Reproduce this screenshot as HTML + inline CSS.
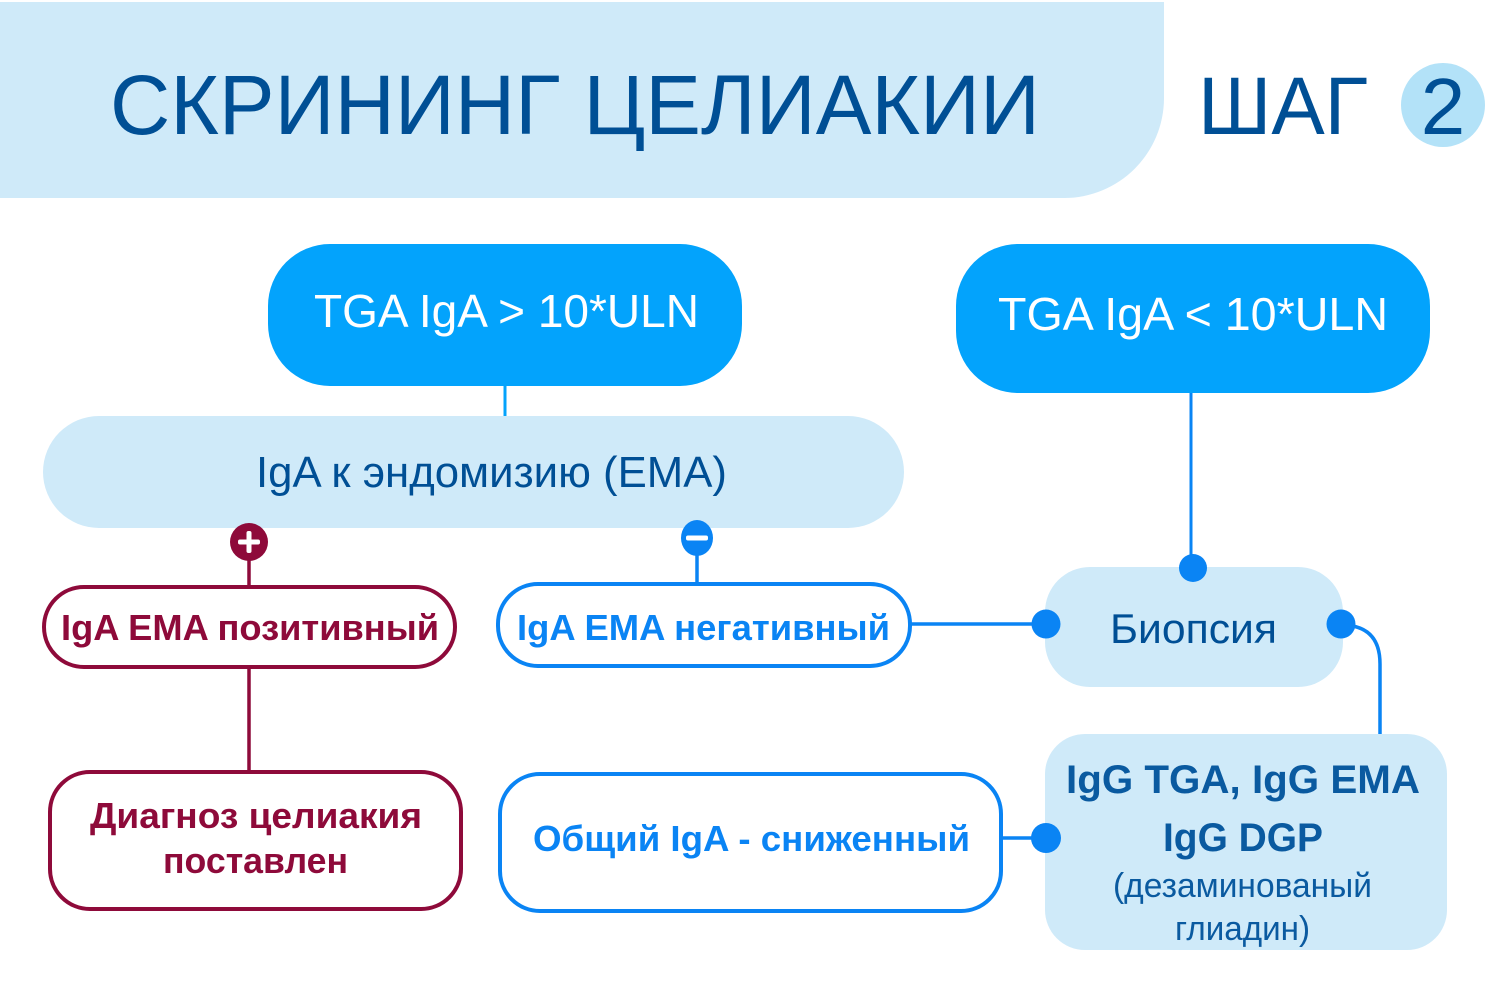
<!DOCTYPE html>
<html><head><meta charset="utf-8"><style>
html,body{margin:0;padding:0;background:#fff;}
svg{display:block;}
text{font-family:"Liberation Sans","DejaVu Sans",sans-serif;}
</style></head><body>
<svg width="1500" height="991" viewBox="0 0 1500 991" xmlns="http://www.w3.org/2000/svg">
<!-- header band -->
<path d="M0 2 H1164 V98 A100 100 0 0 1 1064 198 H0 Z" fill="#cfeaf9"/>
<text x="110" y="134" font-size="84" fill="#004f95" textLength="930" lengthAdjust="spacingAndGlyphs">СКРИНИНГ ЦЕЛИАКИИ</text>
<text x="1198" y="134" font-size="82" fill="#004f95" textLength="170" lengthAdjust="spacingAndGlyphs">ШАГ</text>
<circle cx="1443" cy="105" r="42" fill="#b3e2f8"/>
<text x="1443" y="134" font-size="80" fill="#004f95" text-anchor="middle">2</text>

<!-- connectors -->
<line x1="505" y1="384" x2="505" y2="418" stroke="#03a3fc" stroke-width="3"/>
<line x1="1191" y1="390" x2="1191" y2="568" stroke="#0a84f4" stroke-width="3"/>
<line x1="249" y1="555" x2="249" y2="587" stroke="#8e0a3a" stroke-width="3.5"/>
<line x1="249" y1="668" x2="249" y2="772" stroke="#8e0a3a" stroke-width="3.5"/>
<line x1="697" y1="552" x2="697" y2="584" stroke="#0a84f4" stroke-width="3.5"/>
<line x1="910" y1="624" x2="1046" y2="624" stroke="#0a84f4" stroke-width="3.5"/>
<line x1="1001" y1="838" x2="1046" y2="838" stroke="#0a84f4" stroke-width="3.5"/>
<path d="M1341 625 Q1380 625 1380 664 V736" fill="none" stroke="#0a84f4" stroke-width="3.5"/>

<!-- top boxes -->
<rect x="268" y="244" width="474" height="142" rx="62" fill="#03a3fc"/>
<text x="314" y="327" font-size="46" fill="#fff" textLength="385" lengthAdjust="spacingAndGlyphs">TGA IgA &gt; 10*ULN</text>
<rect x="956" y="244" width="474" height="149" rx="62" fill="#03a3fc"/>
<text x="998" y="330" font-size="46" fill="#fff" textLength="390" lengthAdjust="spacingAndGlyphs">TGA IgA &lt; 10*ULN</text>

<!-- EMA -->
<rect x="43" y="416" width="861" height="112" rx="56" fill="#cfeaf9"/>
<text x="256" y="487" font-size="44" fill="#004f95" textLength="471" lengthAdjust="spacingAndGlyphs">IgA к эндомизию (EMA)</text>

<!-- plus / minus -->
<circle cx="249" cy="542" r="19" fill="#8e0a3a"/>
<rect x="238" y="539.5" width="22" height="5" rx="2" fill="#fff"/>
<rect x="246.5" y="531" width="5" height="22" rx="2" fill="#fff"/>
<ellipse cx="697" cy="538" rx="16" ry="18" fill="#0a84f4"/>
<rect x="686" y="535.5" width="22" height="5" rx="2" fill="#fff"/>

<!-- positive -->
<rect x="44" y="587" width="411" height="80" rx="40" fill="#fff" stroke="#8e0a3a" stroke-width="4"/>
<text x="61" y="640" font-size="36" font-weight="bold" fill="#8e0a3a" textLength="378" lengthAdjust="spacingAndGlyphs">IgA EMA позитивный</text>
<!-- negative -->
<rect x="498" y="584" width="412" height="82" rx="40" fill="#fff" stroke="#0a84f4" stroke-width="4"/>
<text x="517" y="640" font-size="36" font-weight="bold" fill="#0a84f4" textLength="373" lengthAdjust="spacingAndGlyphs">IgA EMA негативный</text>

<!-- diagnosis -->
<rect x="50" y="772" width="411" height="137" rx="40" fill="#fff" stroke="#8e0a3a" stroke-width="4"/>
<text x="90" y="828" font-size="36" font-weight="bold" fill="#8e0a3a" textLength="332" lengthAdjust="spacingAndGlyphs">Диагноз целиакия</text>
<text x="163" y="873" font-size="36" font-weight="bold" fill="#8e0a3a" textLength="185" lengthAdjust="spacingAndGlyphs">поставлен</text>

<!-- total IgA -->
<rect x="500" y="774" width="501" height="137" rx="40" fill="#fff" stroke="#0a84f4" stroke-width="4"/>
<text x="533" y="851" font-size="36" font-weight="bold" fill="#0a84f4" textLength="437" lengthAdjust="spacingAndGlyphs">Общий IgA - сниженный</text>

<!-- biopsy -->
<rect x="1045" y="567" width="298" height="120" rx="45" fill="#cfeaf9"/>
<text x="1110" y="643" font-size="42" fill="#004f95" textLength="167" lengthAdjust="spacingAndGlyphs">Биопсия</text>

<!-- IgG -->
<rect x="1045" y="734" width="402" height="216" rx="40" fill="#cfeaf9"/>
<text x="1066" y="793" font-size="40" font-weight="bold" fill="#0a5aa0" textLength="354" lengthAdjust="spacingAndGlyphs">IgG TGA, IgG EMA</text>
<text x="1163" y="851" font-size="40" font-weight="bold" fill="#0a5aa0" textLength="160" lengthAdjust="spacingAndGlyphs">IgG DGP</text>
<text x="1113" y="897" font-size="34" fill="#0a5aa0" textLength="259" lengthAdjust="spacingAndGlyphs">(дезаминованый</text>
<text x="1175" y="940" font-size="34" fill="#0a5aa0" textLength="135" lengthAdjust="spacingAndGlyphs">глиадин)</text>

<!-- dots -->
<circle cx="1193" cy="568" r="14" fill="#0a84f4"/>
<circle cx="1046" cy="624" r="14.5" fill="#0a84f4"/>
<circle cx="1341" cy="624" r="14.5" fill="#0a84f4"/>
<circle cx="1046" cy="838" r="15" fill="#0a84f4"/>
</svg>
</body></html>
